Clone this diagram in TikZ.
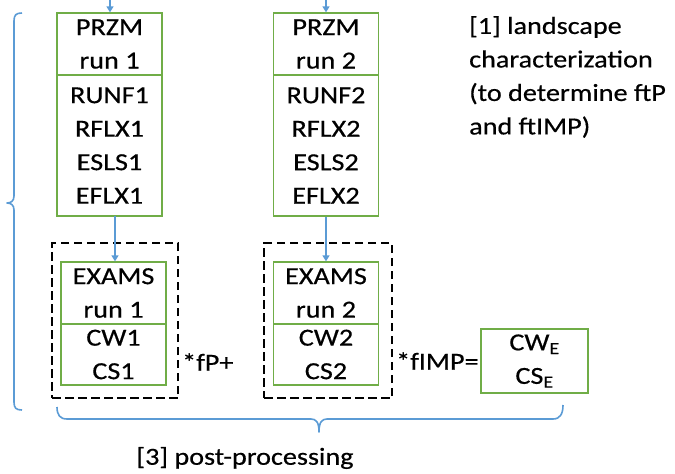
\documentclass[tikz,border=0pt]{standalone}
\usepackage{fontspec}
\setmainfont{Carlito}[FakeStretch=1.15, FakeBold=0.5]
\usetikzlibrary{arrows.meta}
\definecolor{boxgreen}{RGB}{112,173,71}
\definecolor{linkblue}{RGB}{91,155,213}
\begin{document}
\begin{tikzpicture}[x=1pt,y=-1pt,
  txt/.style={font=\fontsize{24.5pt}{33.5pt}\selectfont, inner sep=0pt},
  part/.style={txt, draw=boxgreen, line width=1.3pt, align=center, minimum width=105pt},
  runbox/.style={draw=black, line width=2.7pt, dash pattern=on 8.5pt off 4.5pt, inner sep=0pt},
  flow/.style={draw=linkblue, line width=1.3pt, -{Triangle[length=6pt,width=7pt]}},
  brace/.style={draw=linkblue, line width=1.6pt, line join=round}
]
\useasboundingbox (0,0) rectangle (675,474);

% landscape model runs
\node[part, minimum height=62pt]  (p1top) at (109.5,44)  {PRZM\\run 1};
\node[part, minimum height=141pt] (p1bot) at (109.5,145.5) {RUNF1\\RFLX1\\ESLS1\\EFLX1};
\node[part, minimum height=62pt]  (p2top) at (326,44)  {PRZM\\run 2};
\node[part, minimum height=141pt] (p2bot) at (326,145.5) {RUNF2\\RFLX2\\ESLS2\\EFLX2};

% dashed frames around the exposure runs
\node[runbox, minimum width=126pt, minimum height=155pt] (d1) at (115,320.5) {};
\node[runbox, minimum width=128pt, minimum height=155pt] (d2) at (328,320.5) {};

% exposure model runs
\node[part, minimum height=62pt] (e1top) at (113.5,293) {EXAMS\\run 1};
\node[part, minimum height=61pt] (e1bot) at (113.5,354.5) {CW1\\CS1};
\node[part, minimum height=62pt] (e2top) at (326,293) {EXAMS\\run 2};
\node[part, minimum height=61pt] (e2bot) at (326,354.5) {CW2\\CS2};

% combined result
\node[part, minimum width=107pt, minimum height=64pt] (res) at (534.5,361) {CW\textsubscript{E}\\CS\textsubscript{E}};

% operators between the runs
\node[txt, anchor=west] (op1) at (182,362) {*fP+};
\node[txt, anchor=west] (op2) at (396,361) {*fIMP=};

% inputs and hand-over arrows
\coordinate (in1) at (110,0);
\coordinate (in2) at (326,0);
\draw[flow] (in1) -- (in1 |- p1top.north);
\draw[flow] (in2) -- (in2 |- p2top.north);
\draw[flow] (115,216) coordinate (h1) -- (h1 |- e1top.north);
\draw[flow] (p2bot.south) -- (e2top.north);

% step labels
\node[txt, anchor=north west, align=left] (lab1) at (469,16)
  {[1] landscape\\characterization\\(to determine ftP\\and ftIMP)};
\node[txt, anchor=center] (lab3) at (245,458) {[3] post-processing};

% left brace
\draw[brace] (22,13) .. controls (16,13) and (14,15) .. (14,21)
  -- (14,196) .. controls (14,201) and (11,203) .. (7,203)
  .. controls (11,203) and (14,205) .. (14,210)
  -- (14,402) .. controls (14,408) and (16,410) .. (22,410);

% bottom brace
\draw[brace] (57,407) .. controls (57,415) and (60,419) .. (67,419)
  -- (311,419) .. controls (316,419) and (319,422) .. (319,432)
  .. controls (319,422) and (322,419) .. (327,419)
  -- (553,419) .. controls (560,419) and (563,414) .. (563,405);
\end{tikzpicture}
\end{document}
